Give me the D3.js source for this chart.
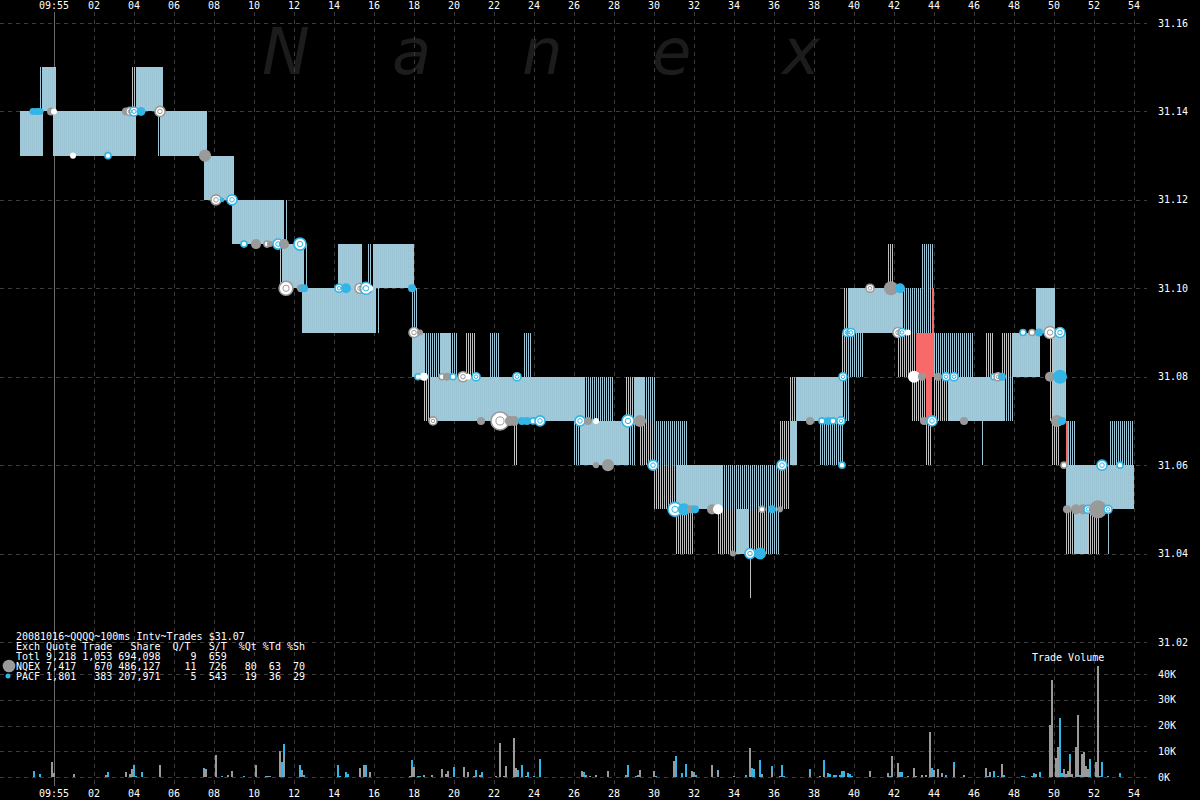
<!DOCTYPE html>
<html><head><meta charset="utf-8">
<script src="https://cdn.jsdelivr.net/npm/d3@7"></script>
<style>
html,body{margin:0;padding:0;background:#000;overflow:hidden}
svg{display:block}
text{font-family:"DejaVu Sans Mono",monospace;font-size:10px;fill:#fff;white-space:pre}
</style>
</head><body><svg id="c" width="1200" height="800"></svg>
<script>
// ---------- DATA ----------
const timeTickSecs = [0,2,4,6,8,10,12,14,16,18,20,22,24,26,28,30,32,34,36,38,40,42,44,46,48,50,52,54];
const timeTickLabels = ["09:55","02","04","06","08","10","12","14","16","18","20","22","24","26","28","30","32","34","36","38","40","42","44","46","48","50","52","54"];
const priceTicks = [31.16,31.14,31.12,31.10,31.08,31.06,31.04,31.02];
const priceTickLabels = ["31.16","31.14","31.12","31.10","31.08","31.06","31.04","31.02"];
const volTicks = [0,10000,20000,30000,40000];
const volTickLabels = ["0K","10K","20K","30K","40K"];
const watermark = ["N","a","n","e","x"];
const legendTitle = "20081016~QQQQ~100ms Intv~Trades $31.07";
const legendRows = [
 "Exch Quote Trade   Share  Q/T   S/T  %Qt %Td %Sh",
 "Totl 9,218 1,053 694,098     9  659",
 "NQEX 7,417   670 486,127    11  726   80  63  70",
 "PACF 1,801   383 207,971     5  543   19  36  29"
];
const volumeTitle = "Trade Volume";

// quotes: [startSec, endSec, bid, ask, kind]  s=solid, b=blue lines, g=grey lines, r=crossed
const quotes = [
 [-1.70,-0.60,31.13,31.14,'s'],[-0.70,-0.55,31.13,31.15,'b'],[-0.60,0.10,31.14,31.15,'s'],
 [-0.05,4.10,31.13,31.14,'s'],[3.90,4.10,31.14,31.15,'g'],[4.10,5.40,31.14,31.15,'s'],
 [5.40,5.50,31.14,31.15,'b'],[5.15,5.25,31.13,31.14,'b'],[5.30,7.65,31.13,31.14,'s'],
 [7.50,9.00,31.12,31.13,'s'],[8.90,11.50,31.11,31.12,'s'],[11.55,11.65,31.11,31.12,'b'],
 [11.30,11.40,31.10,31.11,'g'],[11.40,12.50,31.10,31.11,'s'],[12.55,12.65,31.10,31.11,'b'],
 [12.40,16.10,31.09,31.10,'s'],[16.20,16.30,31.09,31.10,'b'],[14.20,15.40,31.10,31.11,'s'],
 [15.65,15.90,31.10,31.11,'b'],[15.95,18.00,31.10,31.11,'s'],[17.90,18.15,31.09,31.10,'b'],
 [17.90,18.55,31.08,31.09,'s'],[18.55,19.30,31.08,31.09,'b'],[19.30,19.80,31.08,31.09,'s'],
 [19.80,20.15,31.08,31.09,'b'],[20.60,21.05,31.08,31.09,'g'],[21.75,22.30,31.08,31.09,'b'],
 [23.45,23.90,31.08,31.09,'b'],[18.50,18.80,31.07,31.08,'g'],[18.80,26.50,31.07,31.08,'s'],
 [26.50,28.00,31.07,31.08,'b'],[28.60,29.00,31.07,31.08,'g'],[29.00,29.55,31.07,31.08,'s'],
 [29.55,30.10,31.07,31.08,'b'],[22.95,23.15,31.06,31.07,'g'],[25.95,26.35,31.06,31.07,'b'],
 [26.35,28.70,31.06,31.07,'s'],[28.70,29.10,31.06,31.07,'b'],[29.30,30.00,31.06,31.07,'g'],
 [30.00,31.70,31.06,31.07,'b'],[30.00,31.10,31.05,31.06,'g'],[31.10,33.40,31.05,31.06,'s'],
 [33.40,36.15,31.05,31.06,'b'],[36.15,36.80,31.05,31.06,'g'],[31.10,31.95,31.04,31.05,'g'],
 [33.20,34.10,31.04,31.05,'g'],[34.10,34.75,31.04,31.05,'s'],[34.75,35.70,31.04,31.05,'g'],
 [35.70,36.30,31.04,31.05,'b'],[34.80,34.90,31.03,31.04,'g'],[36.30,36.80,31.06,31.07,'g'],
 [36.80,37.15,31.06,31.07,'s'],[38.25,39.40,31.06,31.07,'b'],[39.35,39.45,31.06,31.07,'b'],
 [36.80,37.10,31.07,31.08,'g'],[37.10,39.45,31.07,31.08,'s'],[39.45,39.80,31.07,31.08,'b'],
 [39.40,39.70,31.08,31.09,'g'],[39.70,40.50,31.08,31.09,'b'],[39.50,39.70,31.09,31.10,'g'],
 [39.70,42.40,31.09,31.10,'s'],[42.40,43.85,31.09,31.10,'b'],[43.35,44.00,31.10,31.11,'b'],
 [41.70,41.95,31.10,31.11,'g'],[43.90,44.00,31.09,31.10,'r'],[42.20,43.10,31.08,31.09,'g'],
 [43.10,44.00,31.08,31.09,'r'],[44.00,46.00,31.08,31.09,'b'],[42.90,43.60,31.07,31.08,'g'],
 [43.60,43.90,31.07,31.08,'r'],[43.95,44.70,31.07,31.08,'g'],[44.70,47.50,31.07,31.08,'s'],
 [47.50,48.00,31.07,31.08,'b'],[43.60,43.90,31.06,31.07,'g'],[46.35,46.45,31.06,31.07,'b'],
 [46.60,46.95,31.08,31.09,'g'],[47.40,47.90,31.08,31.09,'g'],[47.90,49.30,31.08,31.09,'s'],
 [49.10,50.00,31.09,31.10,'s'],[50.00,50.10,31.09,31.10,'b'],[49.80,49.95,31.07,31.09,'g'],
 [49.95,50.60,31.07,31.09,'s'],[49.90,50.30,31.06,31.07,'g'],[50.60,50.70,31.06,31.07,'r'],
 [50.70,51.10,31.06,31.07,'b'],[50.60,54.00,31.05,31.06,'s'],[52.75,54.00,31.06,31.07,'b'],
 [50.60,51.00,31.04,31.05,'g'],[51.00,51.70,31.04,31.05,'s'],[51.70,52.25,31.04,31.05,'g'],
 [52.70,52.80,31.04,31.05,'b']
];

// trades: [sec, price, kind, shares]  g=NQEX, b=PACF, gw/bw=hollow, w=white
const trades = [
 [-1.05,31.14,'b',1200],[-0.85,31.14,'b',1200],[-0.70,31.14,'b',1200],
 [-0.15,31.14,'g',1600],[0.00,31.14,'w',900],
 [0.95,31.13,'w',900],[2.70,31.13,'bw',900],
 [3.60,31.14,'g',1600],[3.80,31.14,'gw',1600],[4.00,31.14,'bw',2000],[4.35,31.14,'b',2000],
 [5.30,31.14,'gw',2500],[7.55,31.13,'g',3600],
 [8.10,31.12,'gw',2500],[8.40,31.12,'b',600],[8.90,31.12,'bw',2500],
 [9.50,31.11,'bw',900],[10.10,31.11,'g',2500],[10.65,31.11,'gw',900],[10.80,31.11,'g',900],[11.20,31.11,'bw',2500],[11.50,31.11,'g',2500],[12.30,31.11,'bw',3600],
 [11.60,31.10,'gw',4800],[12.35,31.10,'g',1600],[12.50,31.10,'b',1600],
 [14.25,31.10,'bw',1600],[14.60,31.10,'b',2500],[15.30,31.10,'gw',2500],[15.60,31.10,'bw',3600],[15.80,31.10,'w',900],
 [17.90,31.10,'b',1600],
 [18.00,31.09,'gw',2500],[18.30,31.09,'g',900],
 [18.20,31.08,'bw',900],[18.50,31.08,'w',1600],[19.40,31.08,'gw',900],[19.65,31.08,'g',1600],[19.95,31.08,'bw',900],[20.45,31.08,'gw',2500],[20.70,31.08,'w',900],[21.10,31.08,'bw',1600],[23.15,31.08,'bw',1600],
 [18.95,31.07,'gw',1600],[21.35,31.07,'g',1600],[22.30,31.07,'gw',8000],[22.80,31.07,'g',2500],[23.00,31.07,'g',2500],[23.40,31.07,'b',1600],[23.65,31.07,'b',1600],[23.95,31.07,'bw',900],[24.30,31.07,'bw',2500],
 [26.30,31.07,'bw',2500],[26.70,31.07,'g',1600],[27.10,31.07,'w',900],[28.70,31.07,'bw',3600],[29.30,31.07,'g',3600],
 [27.10,31.06,'g',900],[27.70,31.06,'g',3600],[29.95,31.06,'bw',2500],
 [31.05,31.05,'bw',4800],[31.50,31.05,'b',3600],[31.85,31.05,'g',1600],[32.05,31.05,'b',1600],[32.90,31.05,'g',2500],[33.20,31.05,'w',2500],
 [35.40,31.05,'gw',900],[35.90,31.05,'b',1600],[36.30,31.05,'g',900],
 [33.95,31.04,'g',900],[34.80,31.04,'bw',2500],[35.30,31.04,'b',3600],
 [36.40,31.06,'bw',2500],
 [37.80,31.07,'g',1600],[38.40,31.07,'bw',900],[38.70,31.07,'b',1600],[38.95,31.07,'bw',900],[39.35,31.07,'bw',1600],
 [39.45,31.08,'bw',1600],
 [39.65,31.09,'bw',1600],[39.85,31.09,'bw',1600],
 [40.80,31.10,'gw',1600],[41.85,31.10,'g',4800],[42.30,31.10,'b',2500],
 [42.20,31.09,'gw',2500],[42.40,31.09,'bw',1600],[42.70,31.09,'w',900],
 [43.00,31.08,'w',3600],[43.40,31.08,'g',1600],[44.20,31.08,'g',1600],[44.60,31.08,'bw',1600],[45.00,31.08,'bw',1600],
 [43.50,31.07,'g',1600],[43.90,31.07,'bw',2500],[45.50,31.07,'g',1600],
 [39.40,31.06,'bw',900],
 [47.00,31.08,'bw',900],[47.20,31.08,'gw',1600],[47.40,31.08,'b',1600],
 [48.45,31.09,'bw',900],[48.90,31.09,'gw',900],[49.25,31.09,'b',1600],[49.80,31.09,'gw',3600],[50.30,31.09,'bw',2500],
 [49.80,31.08,'g',2500],[50.30,31.08,'b',4800],
 [50.15,31.07,'g',3600],[50.40,31.07,'b',1600],
 [50.50,31.06,'gw',900],[52.40,31.06,'bw',2500],[53.30,31.06,'bw',900],
 [50.65,31.05,'g',1600],[51.10,31.05,'g',2500],[51.45,31.05,'g',2500],[51.70,31.05,'bw',1600],[52.20,31.05,'g',8000],[52.70,31.05,'bw',1600]
];

// volume per 100ms: [sec, NQEX shares, PACF shares]
const volumes = [
 [-1.0,0,2300],[-0.7,0,1200],[-0.1,6000,0],[0.0,1500,0],[1.0,1000,0],[2.6,700,0],[2.7,0,2000],
 [3.6,2000,0],[3.8,1000,0],[3.9,3000,0],[4.0,0,4500],[4.1,0,500],[4.4,0,2000],[5.3,4500,0],
 [7.5,3000,500],[7.6,3000,0],[8.1,8500,0],[8.4,0,300],[8.7,700,0],[8.9,2200,0],[9.5,0,500],
 [10.1,4500,0],[10.6,0,500],[10.7,300,0],[10.8,300,0],[11.3,10000,0],[11.4,0,6000],[11.5,8500,4500],
 [12.3,0,4500],[12.4,2600,0],[12.5,0,700],
 [14.2,0,4700],[14.3,0,300],[14.6,0,2000],[14.7,0,1200],[15.3,3500,0],[15.5,4700,0],[15.6,0,4700],[15.8,2000,0],
 [17.8,300,0],[17.9,3900,2700],[18.0,3900,0],[18.2,0,300],[18.3,0,300],[18.5,800,0],[18.9,800,0],
 [19.4,3000,0],[19.6,1200,0],[19.7,2300,0],[20.0,0,3900],[20.5,3900,0],[20.7,2000,0],[21.0,300,0],[21.1,0,2700],
 [21.3,800,0],[21.4,0,2000],[22.1,300,0],[22.3,13200,0],[22.5,300,0],[22.6,4300,0],[23.0,15200,0],[23.1,3500,0],
 [23.2,0,2700],[23.4,0,4700],[23.6,300,0],[23.7,0,2000],[24.0,0,400],[24.3,0,7000],
 [26.4,2300,0],[26.5,0,2000],[26.6,800,0],[26.8,300,0],[27.1,800,0],[27.7,2300,0],[28.6,800,0],[28.7,0,4700],
 [29.1,0,400],[29.2,400,400],[29.3,2700,0],[30.0,2300,0],[30.1,0,400],
 [31.0,6200,0],[31.1,0,8100],[31.4,0,1600],[31.6,0,5000],[31.9,2300,0],[32.0,1200,800],[32.1,0,800],
 [32.9,4700,0],[33.2,2300,400],[34.0,400,0],[34.6,0,800],[34.8,11300,0],[34.9,0,3500],[35.0,0,3000],
 [35.3,0,6600],[35.4,1200,0],[35.9,2300,2000],[36.3,400,0],[36.4,0,4700],[36.5,0,300],
 [37.8,1600,1500],[38.3,300,0],[38.5,1600,5000],[38.7,0,1600],[38.8,0,1200],[39.0,0,800],[39.1,0,800],
 [39.3,0,800],[39.4,0,2300],[39.5,800,1400],[39.7,0,1600],[39.8,0,1000],[39.9,0,300],
 [40.8,2300,0],[41.7,1600,0],[41.8,0,300],[41.9,8100,0],[42.2,5500,0],[42.3,0,2000],[42.4,0,2000],
 [42.7,300,0],[43.0,3500,0],[43.1,300,0],[43.4,800,0],[43.6,800,0],[43.8,17500,0],[43.9,0,3500],[44.0,2700,0],
 [44.2,3000,0],[44.4,1600,0],[44.6,0,800],[45.0,3500,2300],[45.5,800,0],
 [46.6,3500,0],[46.7,0,300],[46.8,2000,0],[47.0,0,2300],[47.2,0,300],[47.4,5000,0],[47.5,0,600],
 [48.4,0,300],[48.5,0,300],[48.9,300,0],[49.0,0,1400],[49.1,1000,0],[49.3,0,1800],
 [49.8,20200,0],[49.9,37500,0],[50.1,7400,0],[50.2,11500,0],[50.3,0,23000],[50.4,0,1500],[50.5,3000,0],
 [50.6,1000,0],[50.7,2200,0],[50.8,5800,3000],[50.9,1000,0],[51.1,11500,0],[51.2,24000,0],[51.3,0,600],
 [51.4,8800,0],[51.5,9600,0],[51.6,4200,0],[51.7,3000,0],[51.8,0,6800],[52.1,5700,0],[52.2,43000,0],
 [52.3,0,400],[52.4,0,6000],[52.7,0,500],[53.3,0,1400]
];

// ---------- DRAW ----------
const BLUE_Q = "#9cc6d6", GREY_Q = "#c0c0c0", RED_Q = "#f86a6a";
const TR_BLUE = "#33b5e5", TR_GREY = "#9a9a9a";
const GRID = "#3c3c3c";

const svg = d3.select("#c");
const x = d3.scaleLinear().domain([0, 54]).range([54, 1134]);
const yP = d3.scaleLinear().domain([31.02, 31.16]).range([642, 23]);
const yV = d3.scaleLinear().domain([0, 40000]).range([777, 674]);
const rS = d3.scaleSqrt().domain([0, 8000]).range([0, 9]);

svg.append("rect").attr("width",1200).attr("height",800).attr("fill","#000");

// watermark
svg.append("g").selectAll("text").data(watermark).join("text")
  .attr("x",(d,i)=>262 + i*130).attr("y",74)
  .style("font-family","'DejaVu Sans',sans-serif").style("font-style","italic")
  .style("font-size","64px").style("fill","#1c1c1c").text(d=>d);

// grid
const grid = svg.append("g").attr("shape-rendering","crispEdges");
grid.selectAll("line.h").data(priceTicks).join("line")
  .attr("x1",0).attr("x2",1147).attr("y1",d=>Math.round(yP(d))+0.5).attr("y2",d=>Math.round(yP(d))+0.5)
  .attr("stroke",GRID).attr("stroke-dasharray","4,4");
grid.selectAll("line.v").data(volTicks).join("line")
  .attr("x1",0).attr("x2",1147).attr("y1",d=>Math.round(yV(d))+0.5).attr("y2",d=>Math.round(yV(d))+0.5)
  .attr("stroke",GRID).attr("stroke-dasharray","4,4");
grid.selectAll("line.t").data(timeTickSecs).join("line")
  .attr("x1",d=>x(d)+0.5).attr("x2",d=>x(d)+0.5).attr("y1",12).attr("y2",786)
  .attr("stroke",d=>d===0?"#6a6a6a":GRID).attr("stroke-dasharray",d=>d===0?null:"4,4");

// quotes: every pixel column of a quote interval is a 1px filled column (100ms = 2px)
const bluePath = d3.path(), greyPath = d3.path();
quotes.forEach(q=>{
  if(q[4]==='r') return;
  const x0 = Math.round(x(q[0])), x1 = Math.round(x(q[1]));
  const yTop = Math.round(yP(q[3])), yBot = Math.round(yP(q[2]));
  for(let px=x0; px<Math.max(x1,x0+1); px++){
    const even = (px % 2 === 0);
    let p = null;
    if(q[4]==='s') p = even ? bluePath : greyPath;
    else if(q[4]==='b') p = even ? bluePath : null;
    else if(q[4]==='g') p = even ? greyPath : null;
    if(p){ p.rect(px, yTop, 1, yBot - yTop); }
  }
});
const qg = svg.append("g").attr("shape-rendering","crispEdges");
qg.append("path").attr("d",greyPath.toString()).attr("fill",GREY_Q);
qg.append("path").attr("d",bluePath.toString()).attr("fill",BLUE_Q);
qg.selectAll("rect").data(quotes.filter(q=>q[4]==='r')).join("rect")
  .attr("x",d=>Math.round(x(d[0]))).attr("width",d=>Math.round(x(d[1]))-Math.round(x(d[0])))
  .attr("y",d=>Math.round(yP(d[3]))).attr("height",d=>Math.round(yP(d[2]))-Math.round(yP(d[3])))
  .attr("fill",RED_Q);

// trades
const tg = svg.append("g");
tg.selectAll("circle").data(trades).join("circle")
  .attr("cx",d=>x(d[0])).attr("cy",d=>yP(d[1])).attr("r",d=>rS(d[3]))
  .attr("fill",d=>d[2]==='g'?TR_GREY:d[2]==='b'?TR_BLUE:"#fff")
  .attr("stroke",d=>d[2]==='gw'?TR_GREY:d[2]==='bw'?TR_BLUE:"none")
  .attr("stroke-width",1.6);
tg.selectAll("circle.in").data(trades.filter(d=>(d[2]==='gw'||d[2]==='bw') && rS(d[3])>=4)).join("circle")
  .attr("cx",d=>x(d[0])).attr("cy",d=>yP(d[1])).attr("r",d=>rS(d[3])*0.45)
  .attr("fill","none").attr("stroke",d=>d[2]==='gw'?TR_GREY:TR_BLUE).attr("stroke-width",1);

// volume bars
const vg = svg.append("g").attr("shape-rendering","crispEdges");
vg.selectAll("rect.n").data(volumes.filter(d=>d[1]>0)).join("rect")
  .attr("x",d=>Math.round(x(d[0]))-1).attr("width",2)
  .attr("y",d=>yV(d[1])).attr("height",d=>yV(0)-yV(d[1])).attr("fill",TR_GREY);
vg.selectAll("rect.p").data(volumes.filter(d=>d[2]>0)).join("rect")
  .attr("x",d=>Math.round(x(d[0]))-1).attr("width",2)
  .attr("y",d=>yV(d[1]+d[2])).attr("height",d=>yV(d[1])-yV(d[1]+d[2])).attr("fill",TR_BLUE);

// axis labels
const lab = svg.append("g");
timeTickSecs.forEach((s,i)=>{
  lab.append("text").attr("x",x(s)).attr("y",9).attr("text-anchor","middle").text(timeTickLabels[i]);
  lab.append("text").attr("x",x(s)).attr("y",797).attr("text-anchor","middle").text(timeTickLabels[i]);
});
priceTicks.forEach((p,i)=>{
  lab.append("text").attr("x",1158).attr("y",yP(p)+3.5).text(priceTickLabels[i]);
});
volTicks.forEach((v,i)=>{
  lab.append("text").attr("x",1158).attr("y",yV(v)+3.5).text(volTickLabels[i]);
});
lab.append("text").attr("x",1032).attr("y",661).text(volumeTitle);

// legend
const lg = svg.append("g");
lg.append("text").attr("x",16).attr("y",640).text(legendTitle);
legendRows.forEach((r,i)=>{
  lg.append("text").attr("x",16).attr("y",650+i*10).text(r);
});
lg.append("circle").attr("cx",9).attr("cy",666).attr("r",6.3).attr("fill",TR_GREY);
lg.append("circle").attr("cx",8).attr("cy",676).attr("r",2.5).attr("fill",TR_BLUE);
</script>
</body></html>
